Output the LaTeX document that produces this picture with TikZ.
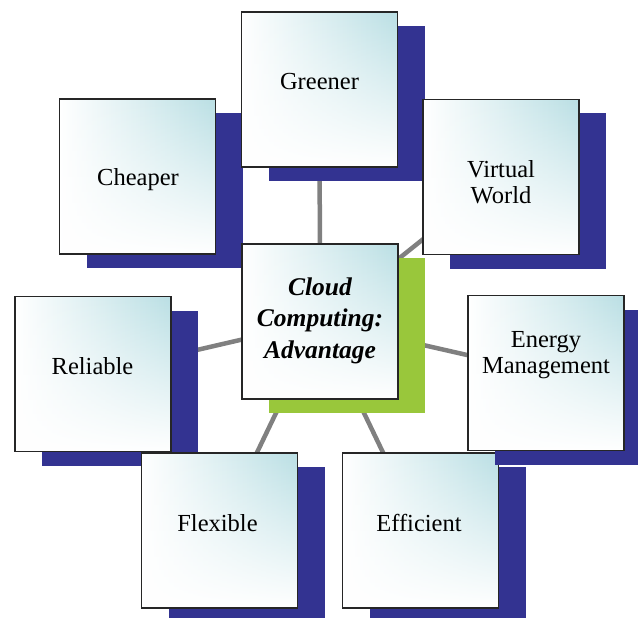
\documentclass[tikz,border=0pt]{standalone}
\usepackage{fontspec}
\setmainfont{Liberation Serif}
\usetikzlibrary{shadows,backgrounds,calc,fadings}
\definecolor{glowc}{RGB}{186,223,228}
\definecolor{navy}{RGB}{51,51,145}
\definecolor{leaf}{RGB}{153,199,59}
\definecolor{conng}{RGB}{128,128,128}
\tikzfading[name=fadebottom, top color=transparent!100, middle color=transparent!72, bottom color=transparent!0]
\begin{document}
\begin{tikzpicture}[x=1pt,y=-1pt,
  boxbase/.style={draw=black!85, line width=1.3pt,
    left color=white, middle color=glowc!45!white, right color=glowc,
    minimum width=156pt, minimum height=155pt, inner sep=0pt,
    postaction={fill=white, path fading=fadebottom},
    postaction={draw=black!85, line width=1.3pt}},
  box/.style={boxbase, drop shadow={shadow xshift=27pt, shadow yshift=-14pt, fill=navy, opacity=1}},
  hub/.style={boxbase, drop shadow={shadow xshift=27pt, shadow yshift=-14pt, fill=leaf, opacity=1}},
  lbl/.style={font=\fontsize{24.5}{26}\selectfont, anchor=base, inner sep=0pt, align=center},
  conn/.style={draw=conng, line width=4.5pt}]
\useasboundingbox (0,0) rectangle (638,618);
\clip (0,0) rectangle (638,618);
\node[box] (cheaper) at (137.5,176.5) {};
\node[box] (greener) at (319.5,89.5) {};
\node[box] (virtual) at (501,177) {};
\node[box] (reliable) at (93,374) {};
\node[box] (flexible) at (219.5,530.5) {};
\node[box] (efficient) at (420.5,530.5) {};
\node[box] (energy) at (546,373) {};
\node[hub] (center) at (320,321.5) {};
\begin{scope}[on background layer]
  \draw[conn] (center.center) -- (greener.center);
  \draw[conn] (center.center) -- (cheaper.center);
  \draw[conn] (center.center) -- (virtual.center);
  \draw[conn] (center.center) -- (reliable.center);
  \draw[conn] (center.center) -- (energy.center);
  \draw[conn] (center.center) -- (flexible.center);
  \draw[conn] (center.center) -- (efficient.center);
\end{scope}
\node[lbl] (tcheaper) at (138,185) {Cheaper};
\node[lbl] (tgreener) at (319.5,90) {Greener};
\node[lbl] (tvirtual) at (501,203) {Virtual\\World};
\node[lbl] (treliable) at (92.5,374) {Reliable};
\node[lbl] (tenergy) at (546,373) {Energy\\Management};
\node[lbl] (tflexible) at (217.5,531) {Flexible};
\node[lbl] (tefficient) at (419,531) {Efficient};
\node[lbl, font=\fontsize{25.5}{31.5}\selectfont\bfseries\itshape] (tcenter) at (320,358) {Cloud\\Computing:\\Advantage};
\end{tikzpicture}
\end{document}
